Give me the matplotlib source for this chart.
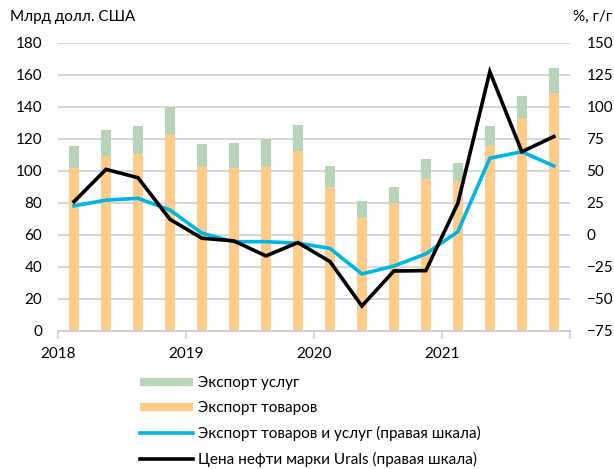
import matplotlib
matplotlib.use("Agg")
import matplotlib.pyplot as plt
from matplotlib.lines import Line2D
import numpy as np

plt.rcParams['font.family'] = ['Lato', 'DejaVu Sans']

# quarterly data, 2018Q1 - 2021Q4
years = ['2018', '2019', '2020', '2021']
goods = [101.7, 109.0, 110.7, 123.2, 103.0, 101.8, 103.2, 112.4,
         89.5, 70.7, 79.5, 94.7, 93.4, 115.3, 133.0, 148.3]
services = [13.8, 16.7, 17.3, 16.5, 13.6, 15.4, 16.7, 16.0,
            13.5, 10.3, 10.4, 12.9, 11.3, 12.5, 13.6, 16.0]
exports_yoy = [22.5, 27.0, 28.4, 19.3, 1.1, -5.5, -5.5, -6.7,
               -10.7, -30.7, -24.5, -15.0, 2.3, 59.7, 64.8, 53.7]
urals_yoy = [25.8, 51.0, 44.5, 12.0, -2.8, -4.9, -16.6, -6.2,
             -21.0, -55.7, -28.4, -28.1, 24.5, 127.3, 64.8, 76.6]

c_goods = '#FECB89'
c_serv = '#B6D5B8'
c_blue = '#00B5E8'
c_grid = '#D0D0D0'
fs = 11

fig = plt.figure(figsize=(6.14, 4.69), dpi=100)
ax = fig.add_axes([0.0945, 0.295, 0.8335, 0.614])
ax2 = ax.twinx()

x = np.arange(len(goods)) + 0.5
ax.bar(x, goods, width=0.33, color=c_goods, zorder=2)
ax.bar(x, services, width=0.33, bottom=goods, color=c_serv, zorder=2)

ax2.plot(x, exports_yoy, color=c_blue, lw=2.6, solid_joinstyle='miter')
ax2.plot(x, urals_yoy, color='black', lw=2.6, solid_joinstyle='miter')

ax.set_xlim(0, 16)
ax.set_ylim(0, 180)
ax.set_yticks(np.arange(0, 181, 20))
ax2.set_ylim(-75, 150)
ax2.set_yticks(np.arange(-75, 151, 25))
ax.yaxis.grid(True, color=c_grid, lw=1.2, zorder=0)
ax.set_axisbelow(True)

ax.set_xticks(np.arange(0, 16, 4))
ax.set_xticklabels(years)
ax.set_xticks([16], minor=True)
ax.tick_params(axis='x', which='both', length=6, color=c_grid, width=1.2,
               labelsize=fs, pad=6)
ax.tick_params(axis='y', length=0, labelsize=fs, pad=11.5)
ax2.tick_params(axis='y', length=0, labelsize=fs, pad=12)

for a in (ax, ax2):
    for s in ['top', 'left', 'right']:
        a.spines[s].set_visible(False)
    a.spines['bottom'].set_color(c_grid)
    a.spines['bottom'].set_linewidth(1.2)

fig.text(0.016, 0.963, 'Млрд долл. США', fontsize=fs, ha='left', va='center')
fig.text(0.997, 0.963, '%, г/г', fontsize=fs, ha='right', va='center')

handles = [
    Line2D([], [], color=c_serv, lw=6, solid_capstyle='butt'),
    Line2D([], [], color=c_goods, lw=6, solid_capstyle='butt'),
    Line2D([], [], color=c_blue, lw=2.6),
    Line2D([], [], color='black', lw=2.6),
]
labels = ['Экспорт услуг', 'Экспорт товаров',
          'Экспорт товаров и услуг (правая шкала)',
          'Цена нефти марки Urals (правая шкала)']
fig.legend(handles, labels, loc='upper left', bbox_to_anchor=(0.228, 0.198),
           frameon=False, fontsize=fs, handlelength=3.45, handletextpad=0.33,
           labelspacing=0.72, borderaxespad=0, borderpad=0)

fig.savefig('out.png', dpi=100)
